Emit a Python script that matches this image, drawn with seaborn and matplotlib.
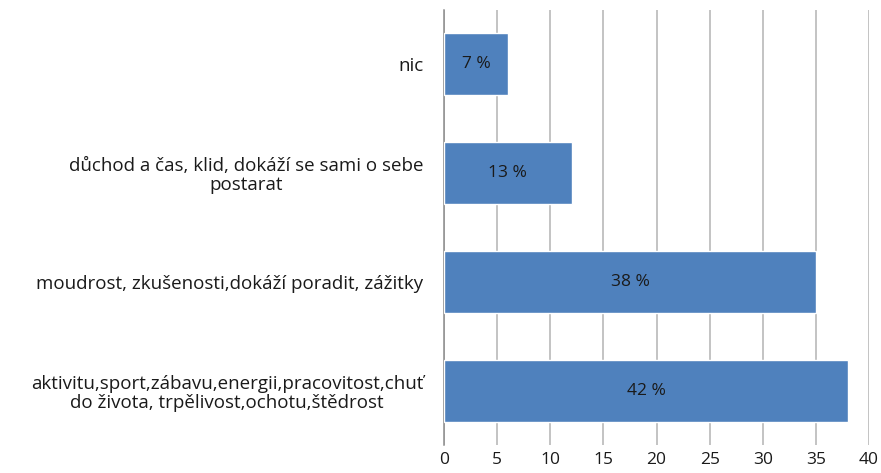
import matplotlib
matplotlib.use('Agg')
import matplotlib.pyplot as plt
import seaborn as sns
import pandas as pd

# chart data (top to bottom)
categories = [
    'nic',
    'důchod a čas, klid, dokáží se sami o sebe\npostarat',
    'moudrost, zkušenosti,dokáží poradit, zážitky',
    'aktivitu,sport,zábavu,energii,pracovitost,chuť\ndo života, trpělivost,ochotu,štědrost',
]
values = [6, 12, 35, 38]
bar_labels = ['7 %', '13 %', '38 %', '42 %']
x_ticks = [0, 5, 10, 15, 20, 25, 30, 35, 40]

df = pd.DataFrame({'category': categories, 'value': values})

sns.set_style('white')
plt.rcParams['font.family'] = ['Open Sans', 'DejaVu Sans']

fig = plt.figure(figsize=(8.81, 4.73), dpi=100)
ax = fig.add_axes([0.504, 0.059, 0.4825, 0.92])

sns.barplot(data=df, x='value', y='category', orient='h', color='#4F81BD',
            width=0.57, saturation=1, ax=ax, zorder=3)

ax.bar_label(ax.containers[0], labels=bar_labels, label_type='center',
             fontsize=12.5, color='#1a1a1a')

ax.set_xlim(0, 40)
ax.set_xticks(x_ticks)
ax.set_xlabel('')
ax.set_ylabel('')
ax.grid(axis='x', color='#B3B3B3', linewidth=1.1, zorder=0)
ax.grid(axis='y', visible=False)

for side in ['top', 'right', 'bottom']:
    ax.spines[side].set_visible(False)
ax.spines['left'].set_color('#8C8C8C')
ax.spines['left'].set_linewidth(1.1)

ax.tick_params(axis='y', length=0, pad=15, labelsize=13.5, labelcolor='#1a1a1a')
ax.tick_params(axis='x', length=0, pad=5, labelsize=12.5, labelcolor='#1a1a1a')
for lbl in ax.get_yticklabels():
    lbl.set_multialignment('center')
    lbl.set_linespacing(1.08)

plt.savefig('out.png', dpi=100)
